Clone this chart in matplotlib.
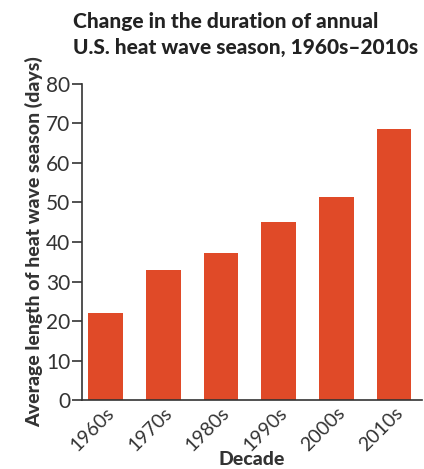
import matplotlib
matplotlib.use("Agg")
import matplotlib.pyplot as plt

plt.rcParams['font.family'] = ['Lato', 'DejaVu Sans']

decades = ["1960s", "1970s", "1980s", "1990s", "2000s", "2010s"]
season_days = [22.0, 32.9, 37.2, 45.1, 51.4, 68.6]

bar_color = "#E04A28"
ink = "#333333"

fig = plt.figure(figsize=(4.24, 4.69), dpi=100)
ax = fig.add_axes([0.193, 0.147, 0.802, 0.674])

ax.bar(range(len(decades)), season_days, width=0.6, color=bar_color)

ax.set_xlim(-0.41, 5.48)
ax.set_ylim(0, 80)
ax.set_yticks(range(0, 81, 10))
ax.set_xticks(range(len(decades)))
ax.set_xticklabels(decades, rotation=45, ha="right", va="top", rotation_mode="anchor")

for side in ["top", "right"]:
    ax.spines[side].set_visible(False)
for side in ["left", "bottom"]:
    ax.spines[side].set_color(ink)
    ax.spines[side].set_linewidth(1.2)

ax.tick_params(axis="y", length=7.5, width=1.2, color=ink, labelsize=15, labelcolor=ink, pad=1)
ax.tick_params(axis="x", length=0, labelsize=14, labelcolor=ink, pad=3)

ax.set_ylabel("Average length of heat wave season (days)", fontsize=14, fontweight="black",
              color=ink, labelpad=2)
ax.set_xlabel("Decade", fontsize=14, fontweight="black", color=ink, labelpad=-2)

fig.text(0.172, 0.974, "Change in the duration of annual\nU.S. heat wave season, 1960s\u20132010s",
         ha="left", va="top", fontsize=15, fontweight="black", color="#222222", linespacing=1.4)

fig.savefig("out.png", dpi=100)
